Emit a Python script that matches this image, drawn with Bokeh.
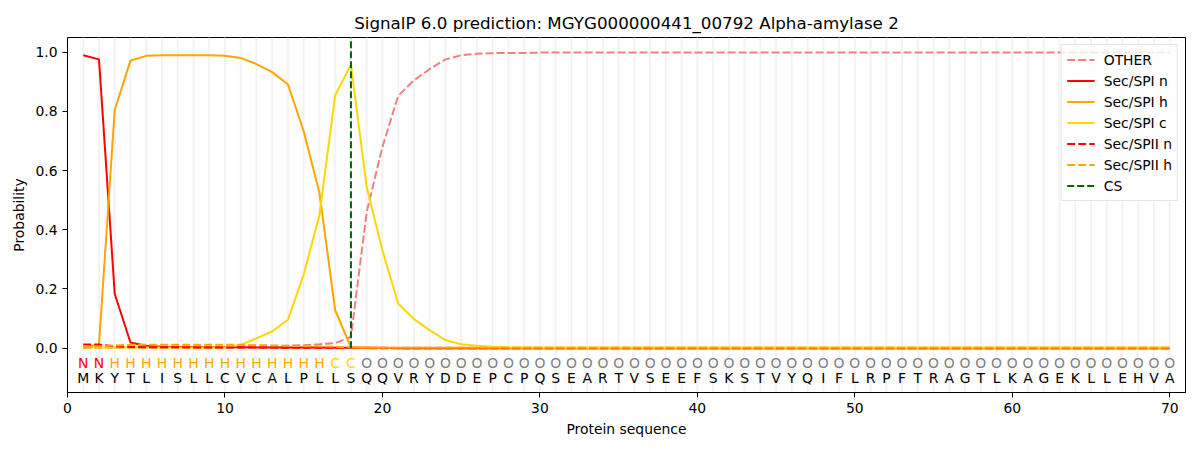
from bokeh.plotting import figure
from bokeh.models import ColumnDataSource, Range1d, Legend, LegendItem, FixedTicker, PrintfTickFormatter
from bokeh.core.properties import value
from bokeh.embed import file_html
from bokeh.resources import INLINE

# ---------------- data ----------------
title = "SignalP 6.0 prediction: MGYG000000441_00792 Alpha-amylase 2"
sequence = list("MKYTLISLLCVCALPLLSQQVRYDDEPCPQSEARTVSEEFSKSTVYQIFLRPFTRAGTLKAGEKLLEHVA")
labels = list("NN" + "H" * 14 + "CC" + "O" * 52)
positions = list(range(1, len(sequence) + 1))

other = ([0.001, 0.001, 0.001, 0.001, 0.001, 0.001, 0.002, 0.002, 0.002, 0.002,
          0.003, 0.004, 0.006, 0.008, 0.010, 0.013, 0.017, 0.038, 0.46, 0.68,
          0.853, 0.905, 0.943, 0.976, 0.990, 0.995, 0.997, 0.998, 0.998]
         + [0.999] * 41)
sp1_n = ([0.990, 0.976, 0.183, 0.019, 0.008, 0.005, 0.004, 0.004, 0.003, 0.003,
          0.003, 0.002, 0.002, 0.002, 0.002, 0.002, 0.001, 0.001, 0.001, 0.001]
         + [0.0] * 50)
sp1_h = ([0.002, 0.012, 0.805, 0.972, 0.988, 0.990, 0.990, 0.990, 0.990, 0.988,
          0.981, 0.960, 0.933, 0.891, 0.733, 0.525, 0.128, 0.003, 0.002, 0.001]
         + [0.001] * 50)
sp1_c = ([0.002, 0.002, 0.002, 0.002, 0.002, 0.002, 0.002, 0.002, 0.002, 0.003,
          0.011, 0.033, 0.057, 0.096, 0.249, 0.450, 0.855, 0.958, 0.545, 0.330,
          0.151, 0.098, 0.061, 0.027, 0.013, 0.008, 0.005, 0.003, 0.002, 0.001]
         + [0.001] * 40)
sp2_n = ([0.012, 0.012, 0.006, 0.004, 0.003, 0.003, 0.003, 0.002, 0.002, 0.002,
          0.002, 0.002, 0.002, 0.001, 0.001, 0.001, 0.001, 0.001]
         + [0.0] * 52)
sp2_h = ([0.004, 0.006, 0.009, 0.011, 0.011, 0.011, 0.011, 0.011, 0.011, 0.011,
          0.011, 0.010, 0.009, 0.008, 0.007, 0.006, 0.005, 0.002]
         + [0.001] * 52)
cs_position = 18

x_ticks = [0, 10, 20, 30, 40, 50, 60, 70]
y_ticks = [0.0, 0.2, 0.4, 0.6, 0.8, 1.0]

label_colors = {"N": "#ff0000", "H": "#ffa500", "C": "#ffd700", "O": "#808080"}

# ---------------- figure ----------------
FONT = "DejaVu Sans"
Y0, Y1 = -0.15, 1.05

p = figure(
    frame_width=1118, frame_height=355,
    min_border_left=67, min_border_right=3, min_border_top=37, min_border_bottom=48,
    x_range=Range1d(0, 71), y_range=Range1d(Y0, Y1),
    output_backend="svg", toolbar_location=None, title=title,
)
p.background_fill_color = "white"
p.border_fill_color = "white"
p.outline_line_color = "black"
p.outline_line_width = 1
p.xgrid.visible = False
p.ygrid.visible = False

p.title.text_font = FONT
p.title.text_font_size = "16.7px"
p.title.text_font_style = "normal"
p.title.text_color = "black"
p.title.align = "center"

for ax in (p.xaxis[0], p.yaxis[0]):
    ax.major_label_text_font = FONT
    ax.major_label_text_font_size = "13.9px"
    ax.major_label_text_color = "black"
    ax.axis_label_text_font = FONT
    ax.axis_label_text_font_size = "13.9px"
    ax.axis_label_text_font_style = "normal"
    ax.axis_label_text_color = "black"
    ax.major_tick_out = 5
    ax.major_tick_in = 0
    ax.minor_tick_out = 0
    ax.minor_tick_in = 0
    ax.axis_line_color = "black"
    ax.major_tick_line_color = "black"

p.xaxis.axis_label = "Protein sequence"
p.yaxis.axis_label = "Probability"
p.xaxis.ticker = FixedTicker(ticks=x_ticks)
p.yaxis.ticker = FixedTicker(ticks=y_ticks)
p.yaxis.formatter = PrintfTickFormatter(format="%.1f")

# light vertical guides at each residue
p.segment(x0=positions, y0=Y0, x1=positions, y1=Y1, line_color="#f3f3f3", line_width=2)

src = ColumnDataSource(dict(x=positions, other=other, sp1_n=sp1_n, sp1_h=sp1_h,
                            sp1_c=sp1_c, sp2_n=sp2_n, sp2_h=sp2_h))

LW = 2
DASH = "8 3"
r_other = p.line("x", "other", source=src, line_color="#f08080", line_width=LW, line_dash=DASH)
r_n = p.line("x", "sp1_n", source=src, line_color="#ff0000", line_width=LW)
r_h = p.line("x", "sp1_h", source=src, line_color="#ffa500", line_width=LW)
r_c = p.line("x", "sp1_c", source=src, line_color="#ffd700", line_width=LW)
r_n2 = p.line("x", "sp2_n", source=src, line_color="#ff0000", line_width=LW, line_dash=DASH)
r_h2 = p.line("x", "sp2_h", source=src, line_color="#ffa500", line_width=LW, line_dash=DASH)
r_cs = p.segment(x0=[cs_position], y0=[0], x1=[cs_position], y1=[Y1],
                 line_color="#006400", line_width=LW, line_dash="7 3")

# region labels and sequence letters
lab_src = ColumnDataSource(dict(x=positions, lab=labels, col=[label_colors[l] for l in labels], aa=sequence))
p.text(x="x", y=-0.05, text="lab", source=lab_src, text_color="col",
       text_align="center", text_baseline="middle",
       text_font=value(FONT), text_font_size="13.9px")
p.text(x="x", y=-0.10, text="aa", source=lab_src, text_color="black",
       text_align="center", text_baseline="middle",
       text_font=value(FONT), text_font_size="13.9px")

legend = Legend(items=[
    LegendItem(label="OTHER", renderers=[r_other]),
    LegendItem(label="Sec/SPI n", renderers=[r_n]),
    LegendItem(label="Sec/SPI h", renderers=[r_h]),
    LegendItem(label="Sec/SPI c", renderers=[r_c]),
    LegendItem(label="Sec/SPII n", renderers=[r_n2]),
    LegendItem(label="Sec/SPII h", renderers=[r_h2]),
    LegendItem(label="CS", renderers=[r_cs]),
], location="top_right")
legend.label_text_font = FONT
legend.label_text_font_size = "13.9px"
legend.label_text_color = "black"
legend.glyph_width = 28
legend.glyph_height = 19
legend.label_height = 19
legend.spacing = 2
legend.margin = 7
legend.padding = 5
legend.label_standoff = 9
legend.border_line_color = "#cccccc"
legend.border_line_width = 1
legend.background_fill_alpha = 0.8
p.add_layout(legend)

open("out.html", "w").write(file_html(p, INLINE))
